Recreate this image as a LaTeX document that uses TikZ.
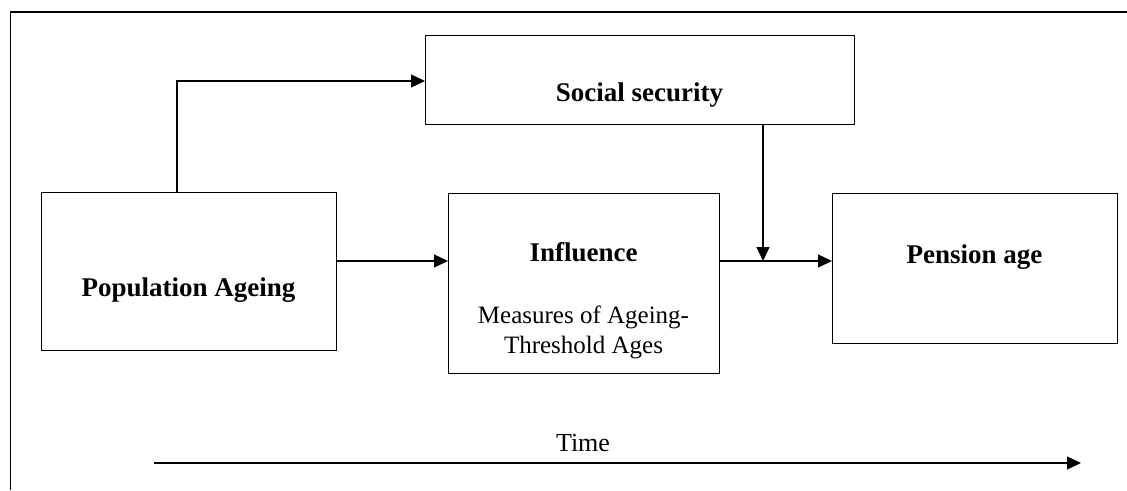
\documentclass[tikz,border=0pt]{standalone}
\usepackage{fontspec}
\setmainfont{Liberation Serif}
\usetikzlibrary{arrows.meta}
\begin{document}
\begin{tikzpicture}[x=1pt,y=-1pt,
  box/.style={draw,line width=1.3pt,inner sep=0pt,anchor=north west},
  bold/.style={font=\fontsize{27}{30}\selectfont\bfseries,inner sep=0pt},
  plain/.style={font=\fontsize{25}{30}\selectfont,inner sep=0pt,align=center},
  arr/.style={line width=1.3pt,-{Triangle[length=14pt,width=13pt]}},
  frame/.style={line width=1.6pt}]
\useasboundingbox (0,0) rectangle (1127,490);
% frame
\coordinate (fbl) at (10.5,490);
\coordinate (ftl) at (10.5,12);
\coordinate (ftr) at (1127,12);
\draw[frame] (fbl) -- (ftl) -- (ftr);
% boxes
\node[box,minimum width=295pt,minimum height=158pt] (pa) at (41,192) {};
\node[box,minimum width=429pt,minimum height=89pt] (ss) at (425,35) {};
\node[box,minimum width=271pt,minimum height=180pt] (inf) at (448,193) {};
\node[box,minimum width=285pt,minimum height=150pt] (pen) at (832,193) {};
% texts
\node[bold] (patxt) at (188.5,290) {Population Ageing};
\node[bold] (sstxt) at (639.5,95) {Social security};
\node[bold] (inftxt) at (583.5,252) {Influence};
\node[plain] (meas) at (583.5,332) {Measures of Ageing-\\Threshold Ages};
\node[bold] (pentxt) at (974.5,257) {Pension age};
% connectors
\coordinate (yar) at (0,261);
\coordinate (yss) at (0,81);
\coordinate (jn) at (763,261);
\coordinate (paup) at (177,192);
\draw[arr] (paup) |- (ss.west |- yss);
\draw[arr] (pa.east |- yar) -- (inf.west |- yar);
\draw[arr] (inf.east |- yar) -- (pen.west |- yar);
\draw[arr] (ss.south -| jn) -- (jn);
% time
\coordinate (t0) at (154,463);
\coordinate (t1) at (1081,463);
\draw[arr] (t0) -- (t1);
\node[font=\fontsize{26}{30}\selectfont,inner sep=0pt] (time) at (583,443) {Time};
\end{tikzpicture}
\end{document}
